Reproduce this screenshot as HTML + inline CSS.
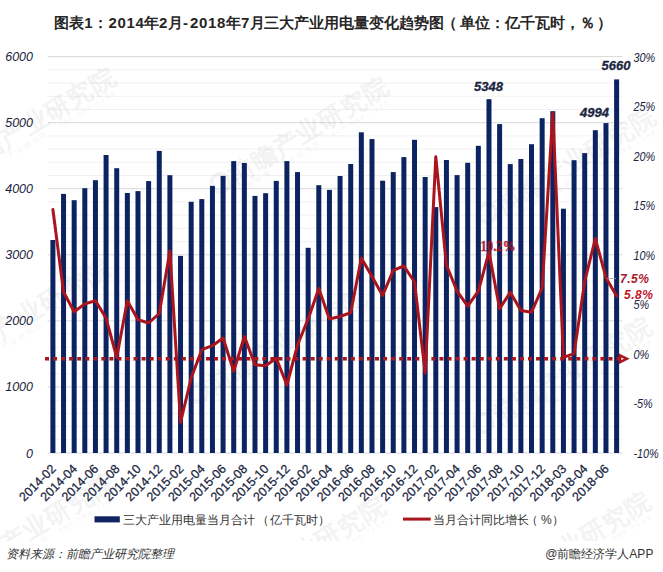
<!DOCTYPE html>
<html><head><meta charset="utf-8"><style>
html,body{margin:0;padding:0;background:#fff;}
body{width:663px;height:572px;overflow:hidden;font-family:"Liberation Sans",sans-serif;}
svg{display:block;}
</style></head><body>
<svg width="663" height="572" viewBox="0 0 663 572">
<rect width="663" height="572" fill="#fff"/>
<line x1="48" x2="622.5" y1="453.00" y2="453.00" stroke="#d9d9d9" stroke-width="1"/>
<line x1="48" x2="622.5" y1="439.79" y2="439.79" stroke="#f1f1f1" stroke-width="1"/>
<line x1="48" x2="622.5" y1="426.57" y2="426.57" stroke="#f1f1f1" stroke-width="1"/>
<line x1="48" x2="622.5" y1="413.36" y2="413.36" stroke="#f1f1f1" stroke-width="1"/>
<line x1="48" x2="622.5" y1="400.15" y2="400.15" stroke="#f1f1f1" stroke-width="1"/>
<line x1="48" x2="622.5" y1="386.93" y2="386.93" stroke="#d9d9d9" stroke-width="1"/>
<line x1="48" x2="622.5" y1="373.72" y2="373.72" stroke="#f1f1f1" stroke-width="1"/>
<line x1="48" x2="622.5" y1="360.51" y2="360.51" stroke="#f1f1f1" stroke-width="1"/>
<line x1="48" x2="622.5" y1="347.29" y2="347.29" stroke="#f1f1f1" stroke-width="1"/>
<line x1="48" x2="622.5" y1="334.08" y2="334.08" stroke="#f1f1f1" stroke-width="1"/>
<line x1="48" x2="622.5" y1="320.87" y2="320.87" stroke="#d9d9d9" stroke-width="1"/>
<line x1="48" x2="622.5" y1="307.65" y2="307.65" stroke="#f1f1f1" stroke-width="1"/>
<line x1="48" x2="622.5" y1="294.44" y2="294.44" stroke="#f1f1f1" stroke-width="1"/>
<line x1="48" x2="622.5" y1="281.23" y2="281.23" stroke="#f1f1f1" stroke-width="1"/>
<line x1="48" x2="622.5" y1="268.01" y2="268.01" stroke="#f1f1f1" stroke-width="1"/>
<line x1="48" x2="622.5" y1="254.80" y2="254.80" stroke="#d9d9d9" stroke-width="1"/>
<line x1="48" x2="622.5" y1="241.59" y2="241.59" stroke="#f1f1f1" stroke-width="1"/>
<line x1="48" x2="622.5" y1="228.37" y2="228.37" stroke="#f1f1f1" stroke-width="1"/>
<line x1="48" x2="622.5" y1="215.16" y2="215.16" stroke="#f1f1f1" stroke-width="1"/>
<line x1="48" x2="622.5" y1="201.95" y2="201.95" stroke="#f1f1f1" stroke-width="1"/>
<line x1="48" x2="622.5" y1="188.73" y2="188.73" stroke="#d9d9d9" stroke-width="1"/>
<line x1="48" x2="622.5" y1="175.52" y2="175.52" stroke="#f1f1f1" stroke-width="1"/>
<line x1="48" x2="622.5" y1="162.31" y2="162.31" stroke="#f1f1f1" stroke-width="1"/>
<line x1="48" x2="622.5" y1="149.09" y2="149.09" stroke="#f1f1f1" stroke-width="1"/>
<line x1="48" x2="622.5" y1="135.88" y2="135.88" stroke="#f1f1f1" stroke-width="1"/>
<line x1="48" x2="622.5" y1="122.67" y2="122.67" stroke="#d9d9d9" stroke-width="1"/>
<line x1="48" x2="622.5" y1="109.45" y2="109.45" stroke="#f1f1f1" stroke-width="1"/>
<line x1="48" x2="622.5" y1="96.24" y2="96.24" stroke="#f1f1f1" stroke-width="1"/>
<line x1="48" x2="622.5" y1="83.03" y2="83.03" stroke="#f1f1f1" stroke-width="1"/>
<line x1="48" x2="622.5" y1="69.81" y2="69.81" stroke="#f1f1f1" stroke-width="1"/>
<line x1="48" x2="622.5" y1="56.60" y2="56.60" stroke="#d9d9d9" stroke-width="1"/>
<defs><clipPath id="wmc"><rect x="0" y="0" width="663" height="541"/></clipPath></defs><g clip-path="url(#wmc)">
<g transform="translate(-49.4,179.8) rotate(-31)" opacity="0.065"><circle cx="0" cy="-7" r="9" fill="none" stroke="#4a5a7a" stroke-width="4"/><text x="12" y="2" font-family="'Liberation Sans', sans-serif" font-size="25" font-weight="bold" fill="#555" letter-spacing="1">前瞻产业研究院</text><text x="22" y="12" font-family="'Liberation Sans', sans-serif" font-size="6.5" fill="#555" letter-spacing="2.2">前瞻网 · 产业研究院 · 400-068-7188</text></g>
<g transform="translate(224.0,189.0) rotate(-31)" opacity="0.065"><circle cx="0" cy="-7" r="9" fill="none" stroke="#4a5a7a" stroke-width="4"/><text x="12" y="2" font-family="'Liberation Sans', sans-serif" font-size="25" font-weight="bold" fill="#555" letter-spacing="1">前瞻产业研究院</text><text x="22" y="12" font-family="'Liberation Sans', sans-serif" font-size="6.5" fill="#555" letter-spacing="2.2">前瞻网 · 产业研究院 · 400-068-7188</text></g>
<g transform="translate(491.0,219.0) rotate(-31)" opacity="0.065"><circle cx="0" cy="-7" r="9" fill="none" stroke="#4a5a7a" stroke-width="4"/><text x="12" y="2" font-family="'Liberation Sans', sans-serif" font-size="25" font-weight="bold" fill="#555" letter-spacing="1">前瞻产业研究院</text><text x="22" y="12" font-family="'Liberation Sans', sans-serif" font-size="6.5" fill="#555" letter-spacing="2.2">前瞻网 · 产业研究院 · 400-068-7188</text></g>
<g transform="translate(-55.0,371.0) rotate(-31)" opacity="0.065"><circle cx="0" cy="-7" r="9" fill="none" stroke="#4a5a7a" stroke-width="4"/><text x="12" y="2" font-family="'Liberation Sans', sans-serif" font-size="25" font-weight="bold" fill="#555" letter-spacing="1">前瞻产业研究院</text><text x="22" y="12" font-family="'Liberation Sans', sans-serif" font-size="6.5" fill="#555" letter-spacing="2.2">前瞻网 · 产业研究院 · 400-068-7188</text></g>
<g transform="translate(202.0,399.0) rotate(-31)" opacity="0.065"><circle cx="0" cy="-7" r="9" fill="none" stroke="#4a5a7a" stroke-width="4"/><text x="12" y="2" font-family="'Liberation Sans', sans-serif" font-size="25" font-weight="bold" fill="#555" letter-spacing="1">前瞻产业研究院</text><text x="22" y="12" font-family="'Liberation Sans', sans-serif" font-size="6.5" fill="#555" letter-spacing="2.2">前瞻网 · 产业研究院 · 400-068-7188</text></g>
<g transform="translate(487.0,429.0) rotate(-31)" opacity="0.065"><circle cx="0" cy="-7" r="9" fill="none" stroke="#4a5a7a" stroke-width="4"/><text x="12" y="2" font-family="'Liberation Sans', sans-serif" font-size="25" font-weight="bold" fill="#555" letter-spacing="1">前瞻产业研究院</text><text x="22" y="12" font-family="'Liberation Sans', sans-serif" font-size="6.5" fill="#555" letter-spacing="2.2">前瞻网 · 产业研究院 · 400-068-7188</text></g>
<g transform="translate(-49.0,585.0) rotate(-31)" opacity="0.065"><circle cx="0" cy="-7" r="9" fill="none" stroke="#4a5a7a" stroke-width="4"/><text x="12" y="2" font-family="'Liberation Sans', sans-serif" font-size="25" font-weight="bold" fill="#555" letter-spacing="1">前瞻产业研究院</text><text x="22" y="12" font-family="'Liberation Sans', sans-serif" font-size="6.5" fill="#555" letter-spacing="2.2">前瞻网 · 产业研究院 · 400-068-7188</text></g>
<g transform="translate(221.0,609.0) rotate(-31)" opacity="0.065"><circle cx="0" cy="-7" r="9" fill="none" stroke="#4a5a7a" stroke-width="4"/><text x="12" y="2" font-family="'Liberation Sans', sans-serif" font-size="25" font-weight="bold" fill="#555" letter-spacing="1">前瞻产业研究院</text><text x="22" y="12" font-family="'Liberation Sans', sans-serif" font-size="6.5" fill="#555" letter-spacing="2.2">前瞻网 · 产业研究院 · 400-068-7188</text></g>
<g transform="translate(486.0,604.0) rotate(-31)" opacity="0.065"><circle cx="0" cy="-7" r="9" fill="none" stroke="#4a5a7a" stroke-width="4"/><text x="12" y="2" font-family="'Liberation Sans', sans-serif" font-size="25" font-weight="bold" fill="#555" letter-spacing="1">前瞻产业研究院</text><text x="22" y="12" font-family="'Liberation Sans', sans-serif" font-size="6.5" fill="#555" letter-spacing="2.2">前瞻网 · 产业研究院 · 400-068-7188</text></g>
</g>
<rect x="50.40" y="240.00" width="5.0" height="213.00" fill="#0c2362"/>
<rect x="61.04" y="193.90" width="5.0" height="259.10" fill="#0c2362"/>
<rect x="71.67" y="200.20" width="5.0" height="252.80" fill="#0c2362"/>
<rect x="82.31" y="188.20" width="5.0" height="264.80" fill="#0c2362"/>
<rect x="92.94" y="180.20" width="5.0" height="272.80" fill="#0c2362"/>
<rect x="103.58" y="155.00" width="5.0" height="298.00" fill="#0c2362"/>
<rect x="114.22" y="168.20" width="5.0" height="284.80" fill="#0c2362"/>
<rect x="124.85" y="193.00" width="5.0" height="260.00" fill="#0c2362"/>
<rect x="135.49" y="191.10" width="5.0" height="261.90" fill="#0c2362"/>
<rect x="146.12" y="181.10" width="5.0" height="271.90" fill="#0c2362"/>
<rect x="156.76" y="150.90" width="5.0" height="302.10" fill="#0c2362"/>
<rect x="167.40" y="175.20" width="5.0" height="277.80" fill="#0c2362"/>
<rect x="178.03" y="255.90" width="5.0" height="197.10" fill="#0c2362"/>
<rect x="188.67" y="201.80" width="5.0" height="251.20" fill="#0c2362"/>
<rect x="199.30" y="199.10" width="5.0" height="253.90" fill="#0c2362"/>
<rect x="209.94" y="185.90" width="5.0" height="267.10" fill="#0c2362"/>
<rect x="220.58" y="175.90" width="5.0" height="277.10" fill="#0c2362"/>
<rect x="231.21" y="161.10" width="5.0" height="291.90" fill="#0c2362"/>
<rect x="241.85" y="163.00" width="5.0" height="290.00" fill="#0c2362"/>
<rect x="252.48" y="195.90" width="5.0" height="257.10" fill="#0c2362"/>
<rect x="263.12" y="193.20" width="5.0" height="259.80" fill="#0c2362"/>
<rect x="273.76" y="180.90" width="5.0" height="272.10" fill="#0c2362"/>
<rect x="284.39" y="161.10" width="5.0" height="291.90" fill="#0c2362"/>
<rect x="295.03" y="172.10" width="5.0" height="280.90" fill="#0c2362"/>
<rect x="305.66" y="247.80" width="5.0" height="205.20" fill="#0c2362"/>
<rect x="316.30" y="185.20" width="5.0" height="267.80" fill="#0c2362"/>
<rect x="326.94" y="189.90" width="5.0" height="263.10" fill="#0c2362"/>
<rect x="337.57" y="176.00" width="5.0" height="277.00" fill="#0c2362"/>
<rect x="348.21" y="164.00" width="5.0" height="289.00" fill="#0c2362"/>
<rect x="358.84" y="132.30" width="5.0" height="320.70" fill="#0c2362"/>
<rect x="369.48" y="139.10" width="5.0" height="313.90" fill="#0c2362"/>
<rect x="380.12" y="180.70" width="5.0" height="272.30" fill="#0c2362"/>
<rect x="390.75" y="172.10" width="5.0" height="280.90" fill="#0c2362"/>
<rect x="401.39" y="157.10" width="5.0" height="295.90" fill="#0c2362"/>
<rect x="412.02" y="139.80" width="5.0" height="313.20" fill="#0c2362"/>
<rect x="422.66" y="177.00" width="5.0" height="276.00" fill="#0c2362"/>
<rect x="433.30" y="207.10" width="5.0" height="245.90" fill="#0c2362"/>
<rect x="443.93" y="160.00" width="5.0" height="293.00" fill="#0c2362"/>
<rect x="454.57" y="175.10" width="5.0" height="277.90" fill="#0c2362"/>
<rect x="465.20" y="162.80" width="5.0" height="290.20" fill="#0c2362"/>
<rect x="475.84" y="145.80" width="5.0" height="307.20" fill="#0c2362"/>
<rect x="486.48" y="99.20" width="5.0" height="353.80" fill="#0c2362"/>
<rect x="497.11" y="124.10" width="5.0" height="328.90" fill="#0c2362"/>
<rect x="507.75" y="164.10" width="5.0" height="288.90" fill="#0c2362"/>
<rect x="518.38" y="159.00" width="5.0" height="294.00" fill="#0c2362"/>
<rect x="529.02" y="144.20" width="5.0" height="308.80" fill="#0c2362"/>
<rect x="539.66" y="118.20" width="5.0" height="334.80" fill="#0c2362"/>
<rect x="550.29" y="111.20" width="5.0" height="341.80" fill="#0c2362"/>
<rect x="560.93" y="208.70" width="5.0" height="244.30" fill="#0c2362"/>
<rect x="571.56" y="160.20" width="5.0" height="292.80" fill="#0c2362"/>
<rect x="582.20" y="153.10" width="5.0" height="299.90" fill="#0c2362"/>
<rect x="592.84" y="130.20" width="5.0" height="322.80" fill="#0c2362"/>
<rect x="603.47" y="123.10" width="5.0" height="329.90" fill="#0c2362"/>
<rect x="614.11" y="79.40" width="5.0" height="373.60" fill="#0c2362"/>
<text transform="translate(480.4,250.6) scale(0.88,1)" x="0" y="0" font-family="Liberation Serif, serif" font-size="14.5" font-weight="bold" fill="#a8121e" stroke="#a8121e" stroke-width="0.4" opacity="0.9">10.2%</text>
<line x1="45" x2="620" y1="358.8" y2="358.8" stroke="#a8161e" stroke-width="3.6" stroke-dasharray="4 4.05"/>
<path d="M620 355.4 L626.8 358.8 L620 362.2 Z" fill="none" stroke="#a8161e" stroke-width="2.6" stroke-linejoin="miter"/>
<polyline points="52.90,209.50 63.54,292.00 74.17,311.80 84.81,303.90 95.44,300.80 106.08,318.10 116.72,357.50 127.35,300.80 137.99,319.70 148.62,323.00 159.26,313.50 169.90,251.00 180.53,422.50 191.17,378.00 201.80,349.70 212.44,345.70 223.08,338.00 233.71,371.30 244.35,336.40 254.98,364.70 265.62,365.70 276.26,358.30 286.89,385.00 297.53,345.00 308.16,318.90 318.80,288.50 329.44,319.00 340.07,316.50 350.71,312.70 361.34,258.00 371.98,276.50 382.62,295.50 393.25,270.40 403.89,266.00 414.52,282.00 425.16,373.00 435.80,156.80 446.43,265.00 457.07,291.20 467.70,306.20 478.34,291.20 488.98,252.00 499.61,308.70 510.25,292.30 520.88,310.40 531.52,312.20 542.16,288.00 552.79,113.00 563.43,357.30 574.06,353.60 584.70,281.40 595.34,238.50 605.97,277.70 616.61,296.10" fill="none" stroke="#aa151d" stroke-width="3" stroke-linejoin="round" stroke-linecap="round"/>
<line x1="607" x2="616" y1="278.5" y2="278.5" stroke="#a0a0a0" stroke-width="0.8"/>
<text x="33" y="457.50" text-anchor="end" font-family="'Liberation Sans', sans-serif" font-size="12.5" font-style="italic" fill="#1a2540">0</text>
<text x="33" y="391.43" text-anchor="end" font-family="'Liberation Sans', sans-serif" font-size="12.5" font-style="italic" fill="#1a2540">1000</text>
<text x="33" y="325.37" text-anchor="end" font-family="'Liberation Sans', sans-serif" font-size="12.5" font-style="italic" fill="#1a2540">2000</text>
<text x="33" y="259.30" text-anchor="end" font-family="'Liberation Sans', sans-serif" font-size="12.5" font-style="italic" fill="#1a2540">3000</text>
<text x="33" y="193.23" text-anchor="end" font-family="'Liberation Sans', sans-serif" font-size="12.5" font-style="italic" fill="#1a2540">4000</text>
<text x="33" y="127.17" text-anchor="end" font-family="'Liberation Sans', sans-serif" font-size="12.5" font-style="italic" fill="#1a2540">5000</text>
<text x="33" y="61.10" text-anchor="end" font-family="'Liberation Sans', sans-serif" font-size="12.5" font-style="italic" fill="#1a2540">6000</text>
<text transform="translate(633.4,458.00) scale(0.87,1)" x="0" y="0" font-family="'Liberation Sans', sans-serif" font-size="12.5" font-style="italic" fill="#1a2540">-10%</text>
<text transform="translate(633.4,408.45) scale(0.87,1)" x="0" y="0" font-family="'Liberation Sans', sans-serif" font-size="12.5" font-style="italic" fill="#1a2540">-5%</text>
<text transform="translate(633.4,358.90) scale(0.87,1)" x="0" y="0" font-family="'Liberation Sans', sans-serif" font-size="12.5" font-style="italic" fill="#1a2540">0%</text>
<text transform="translate(633.4,309.35) scale(0.87,1)" x="0" y="0" font-family="'Liberation Sans', sans-serif" font-size="12.5" font-style="italic" fill="#1a2540">5%</text>
<text transform="translate(633.4,259.80) scale(0.87,1)" x="0" y="0" font-family="'Liberation Sans', sans-serif" font-size="12.5" font-style="italic" fill="#1a2540">10%</text>
<text transform="translate(633.4,210.25) scale(0.87,1)" x="0" y="0" font-family="'Liberation Sans', sans-serif" font-size="12.5" font-style="italic" fill="#1a2540">15%</text>
<text transform="translate(633.4,160.70) scale(0.87,1)" x="0" y="0" font-family="'Liberation Sans', sans-serif" font-size="12.5" font-style="italic" fill="#1a2540">20%</text>
<text transform="translate(633.4,111.15) scale(0.87,1)" x="0" y="0" font-family="'Liberation Sans', sans-serif" font-size="12.5" font-style="italic" fill="#1a2540">25%</text>
<text transform="translate(633.4,61.60) scale(0.87,1)" x="0" y="0" font-family="'Liberation Sans', sans-serif" font-size="12.5" font-style="italic" fill="#1a2540">30%</text>
<text x="474" y="91" font-family="'Liberation Sans', sans-serif" font-size="13" font-weight="bold" font-style="italic" fill="#1b2541" stroke="#1b2541" stroke-width="0.3">5348</text>
<text x="580" y="117" font-family="'Liberation Sans', sans-serif" font-size="13" font-weight="bold" font-style="italic" fill="#1b2541" stroke="#1b2541" stroke-width="0.3">4994</text>
<text x="601.5" y="70" font-family="'Liberation Sans', sans-serif" font-size="13" font-weight="bold" font-style="italic" fill="#1b2541" stroke="#1b2541" stroke-width="0.3">5660</text>
<text x="620" y="283" font-family="'Liberation Sans', sans-serif" font-size="12" font-weight="bold" font-style="italic" fill="#a81b2b" letter-spacing="0.5">7.5%</text>
<text x="624" y="298.5" font-family="'Liberation Sans', sans-serif" font-size="12" font-weight="bold" font-style="italic" fill="#c0182a" letter-spacing="0.5">5.8%</text>
<text transform="translate(53.50,466.5) rotate(-45)" x="0" y="0" dy="4.5" text-anchor="end" font-family="'Liberation Sans', sans-serif" font-size="12.5" fill="#1a2642" stroke="#1a2642" stroke-width="0.25">2014-02</text>
<text transform="translate(74.77,466.5) rotate(-45)" x="0" y="0" dy="4.5" text-anchor="end" font-family="'Liberation Sans', sans-serif" font-size="12.5" fill="#1a2642" stroke="#1a2642" stroke-width="0.25">2014-04</text>
<text transform="translate(96.04,466.5) rotate(-45)" x="0" y="0" dy="4.5" text-anchor="end" font-family="'Liberation Sans', sans-serif" font-size="12.5" fill="#1a2642" stroke="#1a2642" stroke-width="0.25">2014-06</text>
<text transform="translate(117.32,466.5) rotate(-45)" x="0" y="0" dy="4.5" text-anchor="end" font-family="'Liberation Sans', sans-serif" font-size="12.5" fill="#1a2642" stroke="#1a2642" stroke-width="0.25">2014-08</text>
<text transform="translate(138.59,466.5) rotate(-45)" x="0" y="0" dy="4.5" text-anchor="end" font-family="'Liberation Sans', sans-serif" font-size="12.5" fill="#1a2642" stroke="#1a2642" stroke-width="0.25">2014-10</text>
<text transform="translate(159.86,466.5) rotate(-45)" x="0" y="0" dy="4.5" text-anchor="end" font-family="'Liberation Sans', sans-serif" font-size="12.5" fill="#1a2642" stroke="#1a2642" stroke-width="0.25">2014-12</text>
<text transform="translate(181.13,466.5) rotate(-45)" x="0" y="0" dy="4.5" text-anchor="end" font-family="'Liberation Sans', sans-serif" font-size="12.5" fill="#1a2642" stroke="#1a2642" stroke-width="0.25">2015-02</text>
<text transform="translate(202.40,466.5) rotate(-45)" x="0" y="0" dy="4.5" text-anchor="end" font-family="'Liberation Sans', sans-serif" font-size="12.5" fill="#1a2642" stroke="#1a2642" stroke-width="0.25">2015-04</text>
<text transform="translate(223.68,466.5) rotate(-45)" x="0" y="0" dy="4.5" text-anchor="end" font-family="'Liberation Sans', sans-serif" font-size="12.5" fill="#1a2642" stroke="#1a2642" stroke-width="0.25">2015-06</text>
<text transform="translate(244.95,466.5) rotate(-45)" x="0" y="0" dy="4.5" text-anchor="end" font-family="'Liberation Sans', sans-serif" font-size="12.5" fill="#1a2642" stroke="#1a2642" stroke-width="0.25">2015-08</text>
<text transform="translate(266.22,466.5) rotate(-45)" x="0" y="0" dy="4.5" text-anchor="end" font-family="'Liberation Sans', sans-serif" font-size="12.5" fill="#1a2642" stroke="#1a2642" stroke-width="0.25">2015-10</text>
<text transform="translate(287.49,466.5) rotate(-45)" x="0" y="0" dy="4.5" text-anchor="end" font-family="'Liberation Sans', sans-serif" font-size="12.5" fill="#1a2642" stroke="#1a2642" stroke-width="0.25">2015-12</text>
<text transform="translate(308.76,466.5) rotate(-45)" x="0" y="0" dy="4.5" text-anchor="end" font-family="'Liberation Sans', sans-serif" font-size="12.5" fill="#1a2642" stroke="#1a2642" stroke-width="0.25">2016-02</text>
<text transform="translate(330.04,466.5) rotate(-45)" x="0" y="0" dy="4.5" text-anchor="end" font-family="'Liberation Sans', sans-serif" font-size="12.5" fill="#1a2642" stroke="#1a2642" stroke-width="0.25">2016-04</text>
<text transform="translate(351.31,466.5) rotate(-45)" x="0" y="0" dy="4.5" text-anchor="end" font-family="'Liberation Sans', sans-serif" font-size="12.5" fill="#1a2642" stroke="#1a2642" stroke-width="0.25">2016-06</text>
<text transform="translate(372.58,466.5) rotate(-45)" x="0" y="0" dy="4.5" text-anchor="end" font-family="'Liberation Sans', sans-serif" font-size="12.5" fill="#1a2642" stroke="#1a2642" stroke-width="0.25">2016-08</text>
<text transform="translate(393.85,466.5) rotate(-45)" x="0" y="0" dy="4.5" text-anchor="end" font-family="'Liberation Sans', sans-serif" font-size="12.5" fill="#1a2642" stroke="#1a2642" stroke-width="0.25">2016-10</text>
<text transform="translate(415.12,466.5) rotate(-45)" x="0" y="0" dy="4.5" text-anchor="end" font-family="'Liberation Sans', sans-serif" font-size="12.5" fill="#1a2642" stroke="#1a2642" stroke-width="0.25">2016-12</text>
<text transform="translate(436.40,466.5) rotate(-45)" x="0" y="0" dy="4.5" text-anchor="end" font-family="'Liberation Sans', sans-serif" font-size="12.5" fill="#1a2642" stroke="#1a2642" stroke-width="0.25">2017-02</text>
<text transform="translate(457.67,466.5) rotate(-45)" x="0" y="0" dy="4.5" text-anchor="end" font-family="'Liberation Sans', sans-serif" font-size="12.5" fill="#1a2642" stroke="#1a2642" stroke-width="0.25">2017-04</text>
<text transform="translate(478.94,466.5) rotate(-45)" x="0" y="0" dy="4.5" text-anchor="end" font-family="'Liberation Sans', sans-serif" font-size="12.5" fill="#1a2642" stroke="#1a2642" stroke-width="0.25">2017-06</text>
<text transform="translate(500.21,466.5) rotate(-45)" x="0" y="0" dy="4.5" text-anchor="end" font-family="'Liberation Sans', sans-serif" font-size="12.5" fill="#1a2642" stroke="#1a2642" stroke-width="0.25">2017-08</text>
<text transform="translate(521.48,466.5) rotate(-45)" x="0" y="0" dy="4.5" text-anchor="end" font-family="'Liberation Sans', sans-serif" font-size="12.5" fill="#1a2642" stroke="#1a2642" stroke-width="0.25">2017-10</text>
<text transform="translate(542.76,466.5) rotate(-45)" x="0" y="0" dy="4.5" text-anchor="end" font-family="'Liberation Sans', sans-serif" font-size="12.5" fill="#1a2642" stroke="#1a2642" stroke-width="0.25">2017-12</text>
<text transform="translate(564.03,466.5) rotate(-45)" x="0" y="0" dy="4.5" text-anchor="end" font-family="'Liberation Sans', sans-serif" font-size="12.5" fill="#1a2642" stroke="#1a2642" stroke-width="0.25">2018-03</text>
<text transform="translate(585.30,466.5) rotate(-45)" x="0" y="0" dy="4.5" text-anchor="end" font-family="'Liberation Sans', sans-serif" font-size="12.5" fill="#1a2642" stroke="#1a2642" stroke-width="0.25">2018-04</text>
<text transform="translate(606.57,466.5) rotate(-45)" x="0" y="0" dy="4.5" text-anchor="end" font-family="'Liberation Sans', sans-serif" font-size="12.5" fill="#1a2642" stroke="#1a2642" stroke-width="0.25">2018-06</text>
<rect x="94.5" y="516.3" width="25.3" height="6.1" fill="#0f2461"/>
<text x="123" y="524" font-family="'Liberation Sans', sans-serif" font-size="12" fill="#333">三大产业用电量当月合计<tspan dx="1.5">（</tspan><tspan dx="1.5">亿千瓦时</tspan>）</text>
<line x1="403" x2="430.7" y1="519.1" y2="519.1" stroke="#aa151d" stroke-width="3"/>
<text x="433" y="524" font-family="'Liberation Sans', sans-serif" font-size="12" fill="#333">当月合计同比增长<tspan dx="-3">（</tspan><tspan dx="3">%</tspan>）</text>
<text x="54.3 69.3 84.3 93.3 108.4 117.4 126.4 135.4 144.4 159.1 168.0 183.1 190.0 199.0 208.0 217.0 226.0 241.0 250.0 264.0 279.0 294.0 309.0 324.0 339.0 354.0 369.0 384.0 399.0 414.0 429.0 441.5 460.0 475.0 490.0 505.0 520.0 535.0 550.0 565.0 580.0 597.0" y="28" font-family="'Liberation Sans', sans-serif" font-size="15" font-weight="bold" fill="#262626">图表1：2014年2月-2018年7月三大产业用电量变化趋势图（单位：亿千瓦时，％）</text>
<text x="6.3" y="557.7" font-family="'Liberation Sans', sans-serif" font-size="12" font-style="italic" fill="#333">资料来源：前瞻产业研究院整理</text>
<text x="545.2" y="557.8" font-family="'Liberation Sans', sans-serif" font-size="12" fill="#333">@前瞻经济学人APP</text>
</svg></body></html>
